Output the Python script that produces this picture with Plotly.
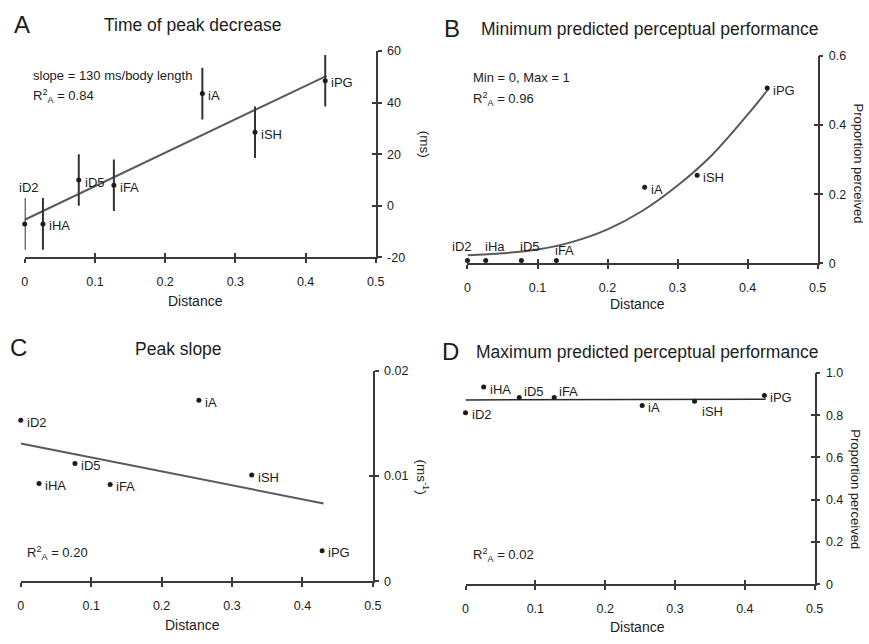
import plotly.graph_objects as go

W, H = 869, 644

# ---- data -------------------------------------------------------------
species = ["iD2", "iHA", "iD5", "iFA", "iA", "iSH", "iPG"]
species_b = ["iD2", "iHa", "iD5", "iFA", "iA", "iSH", "iPG"]
distance = [0.0, 0.026, 0.077, 0.127, 0.253, 0.328, 0.428]

# A: time of peak decrease (ms) with error bars and linear fit
peak_time = [-7.0, -7.0, 10.0, 8.0, 43.5, 28.5, 48.5]
peak_time_err = [10.0, 10.0, 10.0, 10.0, 10.0, 10.0, 10.0]
time_fit_x = [0.0, 0.43]
time_fit_y = [-5.4, 50.4]

# B: minimum predicted perceptual performance and fitted curve
min_perf = [0.008, 0.008, 0.008, 0.008, 0.22, 0.255, 0.507]
min_curve_x = [0.0, 0.05, 0.1, 0.15, 0.2, 0.25, 0.3, 0.35, 0.4, 0.43]
min_curve_y = [0.023, 0.029, 0.040, 0.062, 0.098, 0.152, 0.225, 0.315, 0.430, 0.505]

# C: peak slope (ms^-1) and linear fit
peak_slope = [0.0153, 0.0093, 0.0112, 0.0092, 0.0172, 0.0101, 0.0029]
slope_fit_x = [0.0, 0.43]
slope_fit_y = [0.0131, 0.0074]

# D: maximum predicted perceptual performance and linear fit
max_perf = [0.811, 0.933, 0.884, 0.884, 0.845, 0.866, 0.893]
max_fit_x = [0.0, 0.43]
max_fit_y = [0.872, 0.875]

x_ticks = [0, 0.1, 0.2, 0.3, 0.4, 0.5]
x_ticktext = ["0", "0.1", "0.2", "0.3", "0.4", "0.5"]
a_yticks = [-20, 0, 20, 40, 60]
a_yticktext = ["-20", "0", "20", "40", "60"]
b_yticks = [0, 0.2, 0.4, 0.6]
b_yticktext = ["0", "0.2", "0.4", "0.6"]
c_yticks = [0, 0.01, 0.02]
c_yticktext = ["0", "0.01", "0.02"]
d_yticks = [0, 0.2, 0.4, 0.6, 0.8, 1.0]
d_yticktext = ["0", "0.2", "0.4", "0.6", "0.8", "1.0"]

# ---- styling ----------------------------------------------------------
FONT = "Liberation Sans, Arial, sans-serif"
INK = "#1c1c1c"
AXIS = "#3a3a3a"
FIT = "#5a5a5a"


def px(x):
    return x / W


def py(y):
    return 1 - y / H


# plot-area boxes in pixels: (left, right, top, bottom)
boxes = {
    1: (22, 378, 45, 256),
    2: (471, 826, 50, 262),
    3: (18, 375, 372, 587),
    4: (469, 823, 374, 590),
}
yranges = {1: [-20, 60], 2: [0, 0.6], 3: [0, 0.02], 4: [0, 1.0]}
yticks = {1: (a_yticks, a_yticktext), 2: (b_yticks, b_yticktext),
          3: (c_yticks, c_yticktext), 4: (d_yticks, d_yticktext)}

fig = go.Figure()
layout = dict(
    width=W, height=H, margin=dict(l=0, r=0, t=0, b=0),
    paper_bgcolor="white", plot_bgcolor="white", showlegend=False,
    font=dict(family=FONT, color=INK, size=12),
)

for k, (l, r, t, b) in boxes.items():
    xs = "" if k == 1 else str(k)
    tv, tt = yticks[k]
    common_x = dict(domain=[px(l), px(r)], range=[0, 0.5], tickvals=x_ticks,
                    showgrid=False, zeroline=False, fixedrange=True)
    common_y = dict(domain=[py(b), py(t)], range=yranges[k], tickvals=tv,
                    showgrid=False, zeroline=False, fixedrange=True)
    layout["xaxis" + xs] = dict(
        common_x, anchor="y" + xs, ticktext=x_ticktext, ticks="outside",
        ticklen=4, tickwidth=1.5, tickcolor=AXIS, showline=True,
        linecolor=AXIS, linewidth=1.5, ticklabelstandoff=8,
        tickfont=dict(size=12.5, color=INK, family=FONT))
    layout["yaxis" + xs] = dict(
        common_y, anchor="x" + xs, side="right", ticktext=tt, ticks="outside",
        ticklen=4, tickwidth=1.5, tickcolor=AXIS, showline=True,
        linecolor=AXIS, linewidth=1.5, ticklabelstandoff=3,
        tickfont=dict(size=12.5, color=INK, family=FONT))
    # companion axes that draw the inner half of each tick so ticks cross the line
    layout["xaxis" + str(k + 4)] = dict(
        common_x, overlaying="x" + xs, anchor="y" + xs, side="bottom",
        ticks="inside", ticklen=4, tickwidth=1.5, tickcolor=AXIS,
        showticklabels=False, showline=False)
    layout["yaxis" + str(k + 4)] = dict(
        common_y, overlaying="y" + xs, anchor="x" + xs, side="right",
        ticks="inside", ticklen=4, tickwidth=1.5, tickcolor=AXIS,
        showticklabels=False, showline=False)

fig.update_layout(**layout)

# invisible traces so the companion axes are rendered
for k in range(1, 5):
    fig.add_trace(go.Scatter(x=[None], y=[None], xaxis="x" + str(k + 4),
                             yaxis="y" + str(k + 4), mode="markers",
                             hoverinfo="skip"))


def ax(k):
    s = "" if k == 1 else str(k)
    return dict(xaxis="x" + s, yaxis="y" + s)


# A
fig.add_trace(go.Scatter(x=time_fit_x, y=time_fit_y, mode="lines",
                         line=dict(color=FIT, width=2), cliponaxis=False, **ax(1)))
fig.add_trace(go.Scatter(x=distance, y=peak_time, mode="markers",
                         marker=dict(color=INK, size=5),
                         error_y=dict(type="data", array=peak_time_err,
                                      color="#333333", thickness=2, width=0),
                         cliponaxis=False, **ax(1)))
# B
fig.add_trace(go.Scatter(x=min_curve_x, y=min_curve_y, mode="lines",
                         line=dict(color=FIT, width=2, shape="spline"),
                         cliponaxis=False, **ax(2)))
fig.add_trace(go.Scatter(x=distance, y=min_perf, mode="markers",
                         marker=dict(color=INK, size=5), cliponaxis=False, **ax(2)))
# C
fig.add_trace(go.Scatter(x=slope_fit_x, y=slope_fit_y, mode="lines",
                         line=dict(color=FIT, width=2), cliponaxis=False, **ax(3)))
fig.add_trace(go.Scatter(x=distance, y=peak_slope, mode="markers",
                         marker=dict(color=INK, size=5), cliponaxis=False, **ax(3)))
# D
fig.add_trace(go.Scatter(x=max_fit_x, y=max_fit_y, mode="lines",
                         line=dict(color="#2a2a2a", width=1.5), cliponaxis=False, **ax(4)))
fig.add_trace(go.Scatter(x=distance, y=max_perf, mode="markers",
                         marker=dict(color=INK, size=5), cliponaxis=False, **ax(4)))

ann = []


def label(k, x, y, text, xanchor="left", yanchor="middle", xshift=4, yshift=0):
    s = "" if k == 1 else str(k)
    ann.append(dict(x=x, y=y, xref="x" + s, yref="y" + s, text=text,
                    showarrow=False, xanchor=xanchor, yanchor=yanchor,
                    xshift=xshift, yshift=yshift,
                    font=dict(size=13, color=INK, family=FONT)))


# point labels, A
for i, name in enumerate(species):
    if name == "iD2":
        label(1, distance[i], peak_time[i] + peak_time_err[i], name,
              xanchor="center", yanchor="bottom", xshift=4, yshift=1)
    else:
        label(1, distance[i], peak_time[i], name, yshift=-2)

# point labels, B
for i, name in enumerate(species_b):
    if i < 4:
        shifts = {0: (-5, 10), 1: (9, 10), 2: (9, 10), 3: (8, 6)}[i]
        label(2, distance[i], min_perf[i], name, xanchor="center",
              xshift=shifts[0], yshift=shifts[1] + 4)
    else:
        label(2, distance[i], min_perf[i], name, yshift=-2)

# point labels, C
for i, name in enumerate(species):
    label(3, distance[i], peak_slope[i], name, yshift=-2)

# point labels, D
for i, name in enumerate(species):
    if name in ("iD5", "iFA"):
        label(4, distance[i], max_perf[i], name, xshift=3, yshift=6)
    elif name == "iSH":
        label(4, distance[i], max_perf[i], name, xanchor="left", xshift=5, yshift=-10)
    else:
        label(4, distance[i], max_perf[i], name, yshift=-2)


def text(x, y, s, size, xanchor="center", textangle=0):
    ann.append(dict(x=px(x), y=py(y), xref="paper", yref="paper", text=s,
                    showarrow=False, xanchor=xanchor, yanchor="middle",
                    textangle=textangle,
                    font=dict(size=size, color=INK, family=FONT)))


# panel letters and titles
text(19, 18, "A", 24)
text(192, 18, "Time of peak decrease", 17.5)
text(455, 22, "B", 24)
text(483, 22, "Minimum predicted perceptual performance", 17.5, xanchor="left")
text(16, 348, "C", 24)
text(178, 350, "Peak slope", 17.5)
text(454, 352, "D", 24)
text(478, 353, "Maximum predicted perceptual performance", 17.5, xanchor="left")

# fit statistics
text(28, 70, "slope = 130 ms/body length", 13, xanchor="left")
text(28, 91, "R<sup>2</sup><sub>A</sub> = 0.84", 13, xanchor="left")
text(475, 72, "Min = 0, Max = 1", 13, xanchor="left")
text(475, 94, "R<sup>2</sup><sub>A</sub> = 0.96", 13, xanchor="left")
text(22, 558, "R<sup>2</sup><sub>A</sub> = 0.20", 13, xanchor="left")
text(475, 560, "R<sup>2</sup><sub>A</sub> = 0.02", 13, xanchor="left")

# axis titles
text(195, 301, "Distance", 14)
text(643, 304, "Distance", 14)
text(192, 632, "Distance", 14)
text(643, 634, "Distance", 14)
text(427, 140, "(ms)", 13.5, textangle=90)
text(867, 160, "Proportion perceived", 13, textangle=90)
text(426, 480, "(ms<sup>-1</sup>)", 13.5, textangle=90)
text(865, 493, "Proportion perceived", 13, textangle=90)

fig.update_layout(annotations=ann)
fig.write_html("out.html")
